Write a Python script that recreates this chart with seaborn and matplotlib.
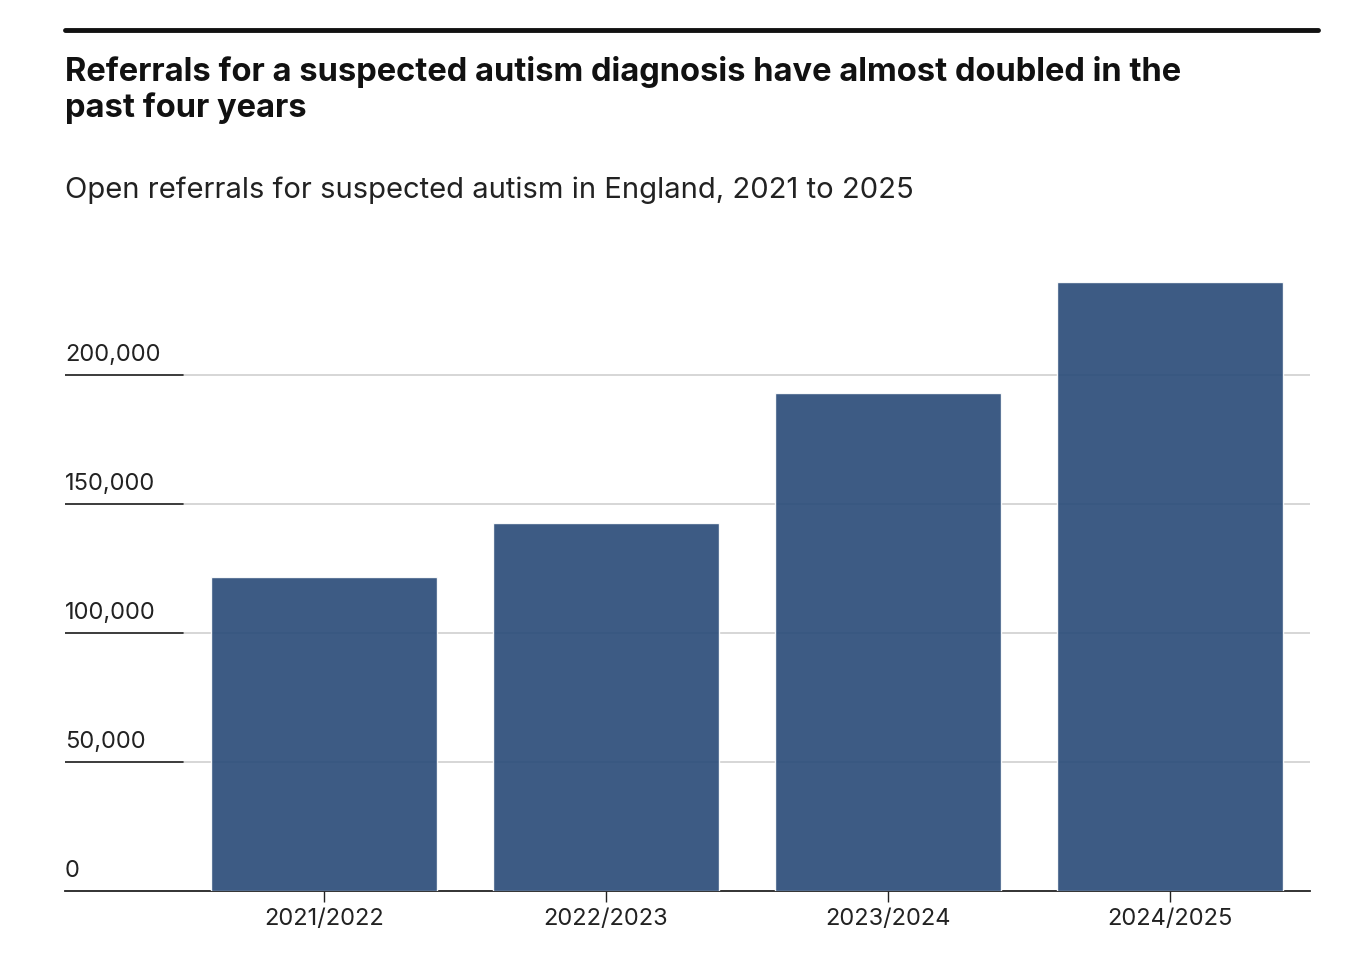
import matplotlib
matplotlib.use("Agg")
import matplotlib.pyplot as plt
import matplotlib.transforms as mtransforms
import seaborn as sns
import pandas as pd

years = ["2021/2022", "2022/2023", "2023/2024", "2024/2025"]
referrals = [121700, 142600, 193000, 236000]
yticks = [0, 50000, 100000, 150000, 200000]
ytick_labels = ["0", "50,000", "100,000", "150,000", "200,000"]

sns.set_theme(style="white")
plt.rcParams['font.family'] = ['Inter', 'DejaVu Sans']

fig = plt.figure(figsize=(13.46, 9.56), dpi=100)
ax = fig.add_axes([65/1346, 65/956, 1245/1346, (891-272)/956])
df = pd.DataFrame({"year": years, "value": referrals})
sns.barplot(data=df, x="year", y="value", color="#2c4d7a", alpha=0.92, width=0.8,
            saturation=1, ax=ax, zorder=3)
ax.set_xlim(-0.918, 3.496)
ax.set_ylim(0, 240000)
for s in ["top", "right", "left"]:
    ax.spines[s].set_visible(False)
ax.spines["bottom"].set_color("#222222")
ax.spines["bottom"].set_linewidth(1.3)
ax.set_yticks([])
ax.set_xlabel("")
ax.set_ylabel("")
ax.tick_params(axis="x", length=8, color="#222222", width=1, labelsize=17,
               labelcolor="#222222", pad=4, bottom=True)
trans = mtransforms.blended_transform_factory(ax.transAxes, ax.transData)
for v, lab in zip(yticks, ytick_labels):
    if v > 0:
        ax.axhline(v, color="#d0d0d0", lw=1.2, zorder=1)
        ax.axhline(v, xmin=0, xmax=(183-65)/1245, color="#222222", lw=1.2, zorder=2)
    ax.text(0, v + 3500, lab, transform=trans, fontsize=17, color="#222222",
            ha="left", va="bottom")

fig.add_artist(plt.Line2D([65/1346, 1318/1346], [1-30/956, 1-30/956],
                          color="#111111", lw=3.5))
fig.text(65/1346, 1-90/956, "Referrals for a suspected autism diagnosis have almost doubled in the\npast four years",
         fontsize=23.5, fontweight="bold", color="#111111", ha="left", va="center",
         linespacing=1.2)
fig.text(65/1346, 1-190/956 - 0.0, "Open referrals for suspected autism in England, 2021 to 2025",
         fontsize=21, color="#222222", ha="left", va="center")
fig.savefig("out.png", dpi=100)
